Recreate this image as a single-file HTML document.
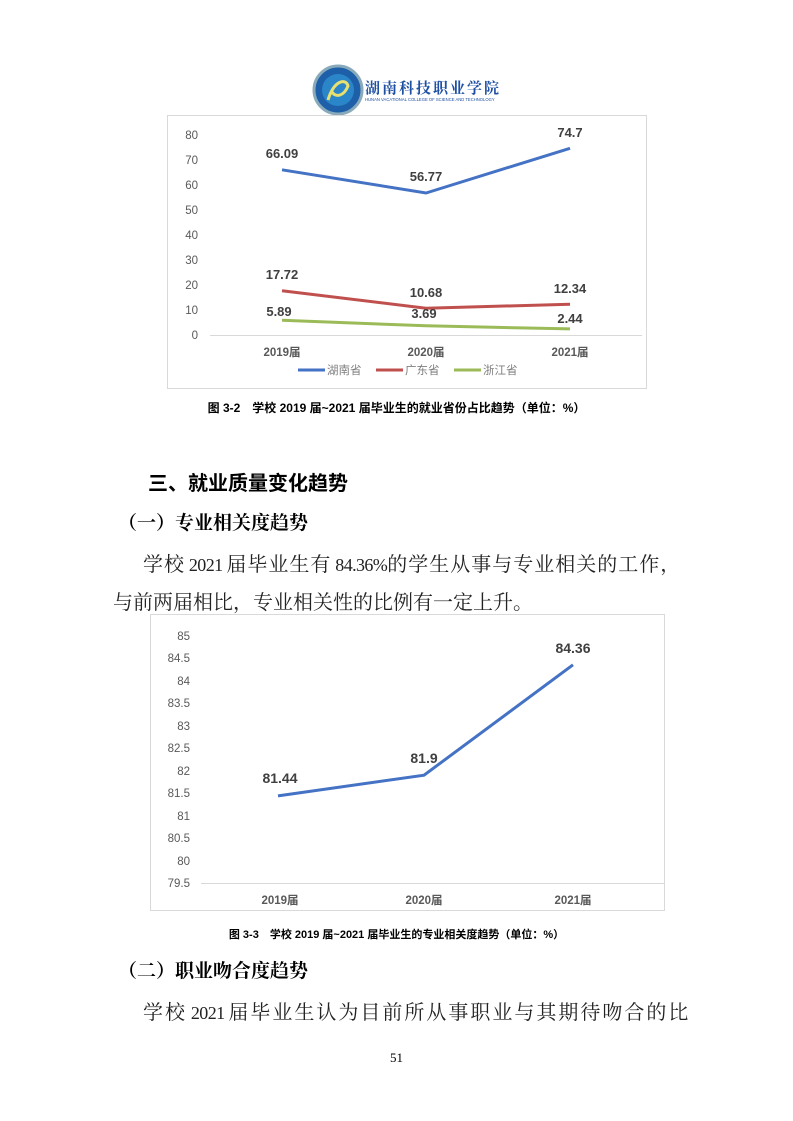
<!DOCTYPE html>
<html><head><meta charset="utf-8"><style>
body{margin:0;background:#fff;}
.pg{position:relative;width:793px;height:1121px;overflow:hidden;font-family:"Liberation Serif","Noto Serif CJK SC",serif;}
.t{position:absolute;white-space:nowrap;}
.h{font-family:"Liberation Sans","Noto Sans CJK SC",sans-serif;font-weight:bold;}
.p{font-size:20px;letter-spacing:1.2px;color:#222;}
.n{font-size:18px;letter-spacing:-0.6px;}
</style></head><body><div class="pg">
<svg style="position:absolute;left:0;top:0" width="793" height="130">
<circle cx="338" cy="90" r="24" fill="#1d5fa8" stroke="#8ab" stroke-width="3"/>
<circle cx="338" cy="90" r="16" fill="#2a86c9"/>
<path d="M328 100 C334 80 346 78 348 86 C344 96 336 98 332 92" stroke="#e8e070" stroke-width="3" fill="none"/>
<text x="365" y="93" font-family="Noto Serif CJK SC,serif" font-weight="bold" font-size="15" fill="#1e4fa3" letter-spacing="2">湖南科技职业学院</text>
<text x="365" y="101" font-family="Liberation Sans,sans-serif" font-size="4.2" fill="#1e4fa3">HUNAN VACATIONAL COLLEGE OF SCIENCE AND TECHNOLOGY</text>
</svg>
<svg style="position:absolute;left:0;top:0" width="793" height="400" font-family="Liberation Sans,Noto Sans CJK SC,sans-serif">
<rect x="167.5" y="115.5" width="479" height="273" fill="none" stroke="#d9d9d9"/>
<line x1="210" y1="335.5" x2="642" y2="335.5" stroke="#d9d9d9"/>
<g font-size="11.5" fill="#595959" text-anchor="end">
<text x="198" y="139">80</text><text x="198" y="164">70</text><text x="198" y="189">60</text><text x="198" y="214">50</text><text x="198" y="239">40</text><text x="198" y="264">30</text><text x="198" y="289">20</text><text x="198" y="314">10</text><text x="198" y="339">0</text>
</g>
<polyline points="282,169.8 426,193 570,148.3" fill="none" stroke="#4472c4" stroke-width="3"/>
<polyline points="282,290.7 426,308.3 570,304.2" fill="none" stroke="#c0504d" stroke-width="3"/>
<polyline points="282,320.3 426,325.8 570,328.9" fill="none" stroke="#9bbb59" stroke-width="3"/>
<g font-size="13" font-weight="bold" fill="#404040" text-anchor="middle">
<text x="282" y="158">66.09</text><text x="426" y="181">56.77</text><text x="570" y="137">74.7</text>
<text x="282" y="279">17.72</text><text x="426" y="297">10.68</text><text x="570" y="293">12.34</text>
<text x="279" y="316">5.89</text><text x="424" y="318">3.69</text><text x="570" y="323">2.44</text>
</g>
<g font-size="11.5" font-weight="bold" fill="#595959" text-anchor="middle">
<text x="282" y="356">2019届</text><text x="426" y="356">2020届</text><text x="570" y="356">2021届</text>
</g>
<g font-size="11.5" fill="#7f7f7f">
<line x1="298" y1="370" x2="325" y2="370" stroke="#4472c4" stroke-width="3"/><text x="327" y="374">湖南省</text>
<line x1="376" y1="370" x2="403" y2="370" stroke="#c0504d" stroke-width="3"/><text x="405" y="374">广东省</text>
<line x1="454" y1="370" x2="481" y2="370" stroke="#9bbb59" stroke-width="3"/><text x="483" y="374">浙江省</text>
</g>
</svg>
<div class="t h" style="left:0;width:793px;text-align:center;top:399px;font-size:12px;">图 3-2　学校 2019 届~2021 届毕业生的就业省份占比趋势（单位：%）</div>
<div class="t h" style="left:148px;top:467px;font-size:20px;">三、就业质量变化趋势</div>
<div class="t" style="left:118px;top:508px;font-size:19px;font-weight:bold;">（一）专业相关度趋势</div>
<div class="t p" style="left:143px;top:548px;letter-spacing:1px;">学校<span class="n"> 2021 </span>届毕业生有<span class="n"> 84.36%</span>的学生从事与专业相关的工作，</div>
<div class="t p" style="left:113px;top:586px;letter-spacing:0px;">与前两届相比，专业相关性的比例有一定上升。</div>
<svg style="position:absolute;left:0;top:600px" width="793" height="320" font-family="Liberation Sans,Noto Sans CJK SC,sans-serif">
<g transform="translate(0,-600)">
<rect x="150.5" y="614.5" width="514" height="296" fill="none" stroke="#d9d9d9"/>
<line x1="201" y1="883.5" x2="664" y2="883.5" stroke="#d9d9d9"/>
<g font-size="11.5" fill="#595959" text-anchor="end">
<text x="190" y="640">85</text><text x="190" y="662">84.5</text><text x="190" y="685">84</text><text x="190" y="707">83.5</text><text x="190" y="730">83</text><text x="190" y="752">82.5</text><text x="190" y="775">82</text><text x="190" y="797">81.5</text><text x="190" y="820">81</text><text x="190" y="842">80.5</text><text x="190" y="865">80</text><text x="190" y="887">79.5</text>
</g>
<polyline points="278,795.9 424,775.2 573,664.8" fill="none" stroke="#4472c4" stroke-width="3"/>
<g font-size="14" font-weight="bold" fill="#404040" text-anchor="middle">
<text x="280" y="783">81.44</text><text x="424" y="763">81.9</text><text x="573" y="653">84.36</text>
</g>
<g font-size="11.5" font-weight="bold" fill="#595959" text-anchor="middle">
<text x="280" y="904">2019届</text><text x="424" y="904">2020届</text><text x="573" y="904">2021届</text>
</g>
</g></svg>
<div class="t h" style="left:0;width:793px;text-align:center;top:926px;font-size:11px;">图 3-3　学校 2019 届~2021 届毕业生的专业相关度趋势（单位：%）</div>
<div class="t" style="left:118px;top:956px;font-size:19px;font-weight:bold;">（二）职业吻合度趋势</div>
<div class="t p" style="left:143px;top:996px;letter-spacing:2px;">学校<span class="n"> 2021 </span>届毕业生认为目前所从事职业与其期待吻合的比</div>
<div class="t" style="left:0;width:793px;text-align:center;top:1050px;font-size:13px;">51</div>
</div></body></html>
